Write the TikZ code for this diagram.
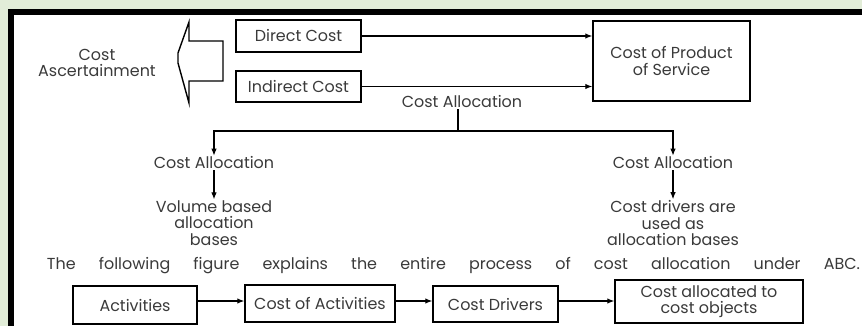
\documentclass[tikz,border=0pt]{standalone}
\usepackage{fontspec}
\setmainfont{Poppins}
\usetikzlibrary{arrows.meta}
\definecolor{pagegreen}{HTML}{E2EDD8}
\definecolor{inkgrey}{HTML}{3A3A3A}
\begin{document}
\begin{tikzpicture}[x=1bp,y=-1bp,
  lbl/.style={font=\fontsize{16}{16.5}\selectfont, text=inkgrey, inner sep=1bp, align=center},
  box/.style={lbl, draw=black, line width=1.5bp, inner sep=0pt},
  arr/.style={-{Latex[length=7bp,width=5.5bp]}, line width=1.1bp},
  conn/.style={line width=1.1bp}]
\useasboundingbox (0,0) rectangle (862,326);
% page and frame
\fill[pagegreen] (0,0) rectangle (862,326);
\fill[white] (14,15) rectangle (862,326);
\fill[black] (8,9) rectangle (862,15);
\fill[black] (8,9) rectangle (14,326);

% top part
\node[lbl] (ascert) at (97,63) {Cost\\Ascertainment};
\draw[line width=1.4bp, line join=miter] (223,41) -- (189,41) -- (189,22) -- (178,53) -- (178,63) -- (189,103) -- (189,81) -- (223,81) -- cycle;

\node[box, minimum width=125bp, minimum height=32bp] (direct) at (298.5,36) {Direct Cost};
\node[box, minimum width=125bp, minimum height=31bp] (indirect) at (298.5,86.5) {Indirect Cost};
\node[box, minimum width=157bp, minimum height=80bp, font=\fontsize{16}{18}\selectfont] (product) at (671.5,61) {Cost of Product\\of Service};

\draw[arr] (direct.east) -- (product.west |- direct.east);
\draw[arr] (indirect.east) -- (product.west |- indirect.east);

% cost allocation split
\node[lbl] (alloc) at (462,102) {Cost Allocation};
\coordinate (split) at (458,131);
\node[lbl] (allocL) at (214,163) {Cost Allocation};
\node[lbl] (allocR) at (673,163) {Cost Allocation};
\draw[conn] (split |- alloc.south) -- (split);
\draw[arr] (split) -- (allocL.north |- split) -- (allocL.north);
\draw[arr] (split) -- (allocR.north |- split) -- (allocR.north);

\node[lbl] (volume) at (214,223) {Volume based\\allocation\\bases};
\node[lbl] (drivers) at (673,223) {Cost drivers are\\used as\\allocation bases};
\draw[arr] (allocL.south) -- (volume.north);
\draw[arr] (allocR.south) -- (drivers.north);

% sentence
\node[lbl, inner sep=0pt] (sentence) at (453.5,266) {\makebox[813bp][s]{The following figure explains the entire process of cost allocation under ABC.}};

% bottom chain
\node[box, minimum width=124bp, minimum height=38bp] (act) at (135,305) {Activities};
\node[box, minimum width=150bp, minimum height=37bp] (costact) at (320,303.5) {Cost of Activities};
\node[box, minimum width=125bp, minimum height=36bp] (cdrv) at (495.5,304) {Cost Drivers};
\node[box, minimum width=188bp, minimum height=43bp] (objects) at (709,301.5) {Cost allocated to\\cost objects};
\draw[arr] (act.east |- 0,301) -- (costact.west |- 0,301);
\draw[arr] (costact.east |- 0,301) -- (cdrv.west |- 0,301);
\draw[arr] (cdrv.east |- 0,301) -- (objects.west |- 0,301);
\end{tikzpicture}
\end{document}
